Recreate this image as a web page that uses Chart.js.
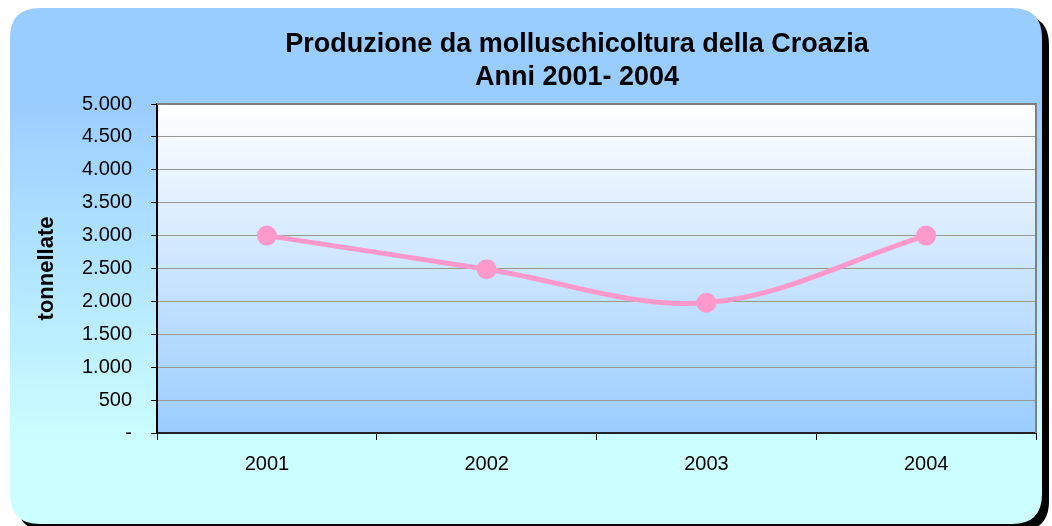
<!DOCTYPE html>
<html>
<head>
<meta charset="utf-8">
<script src="https://cdn.jsdelivr.net/npm/chart.js@4.4.0/dist/chart.umd.min.js"></script>
<style>
html,body{margin:0;padding:0;background:#fff;}
#wrap{width:1052px;height:526px;position:relative;}
</style>
</head>
<body>
<div id="wrap"><canvas id="c" width="1052" height="526"></canvas></div>
<script>
const titleLines = ['Produzione da molluschicoltura della Croazia', 'Anni 2001- 2004'];
const yAxisTitle = 'tonnellate';
const years = ['2001', '2002', '2003', '2004'];
const production = [3000, 2490, 1980, 3000];
const yTicks = [0, 500, 1000, 1500, 2000, 2500, 3000, 3500, 4000, 4500, 5000];

function fmt(v) {
  if (v === 0) return '-';
  return String(v).replace(/\B(?=(\d{3})+(?!\d))/g, '.');
}

function roundRect(ctx, x, y, w, h, r) {
  ctx.beginPath();
  ctx.moveTo(x + r, y);
  ctx.lineTo(x + w - r, y);
  ctx.quadraticCurveTo(x + w, y, x + w, y + r);
  ctx.lineTo(x + w, y + h - r);
  ctx.quadraticCurveTo(x + w, y + h, x + w - r, y + h);
  ctx.lineTo(x + r, y + h);
  ctx.quadraticCurveTo(x, y + h, x, y + h - r);
  ctx.lineTo(x, y + r);
  ctx.quadraticCurveTo(x, y, x + r, y);
  ctx.closePath();
}

const backgroundPlugin = {
  id: 'bg',
  beforeDraw(chart) {
    const ctx = chart.ctx;
    const a = chart.chartArea;
    ctx.save();
    ctx.fillStyle = '#ffffff';
    ctx.fillRect(0, 0, chart.width, chart.height);
    ctx.fillStyle = '#000000';
    roundRect(ctx, 17, 15, 1032, 516, 30);
    ctx.fill();
    const g = ctx.createLinearGradient(0, 8, 0, 524);
    g.addColorStop(0, '#99CCFF');
    g.addColorStop(0.17, '#99CCFF');
    g.addColorStop(0.85, '#CCFFFF');
    g.addColorStop(1, '#CCFFFF');
    ctx.fillStyle = g;
    roundRect(ctx, 10, 8, 1032, 516, 30);
    ctx.fill();
    const pg = ctx.createLinearGradient(0, a.top, 0, a.bottom);
    pg.addColorStop(0, '#FFFFFF');
    pg.addColorStop(1, '#99CCFF');
    ctx.fillStyle = pg;
    ctx.fillRect(a.left, a.top, a.right - a.left, a.bottom - a.top);
    ctx.restore();
  },
  afterDraw(chart) {
    const ctx = chart.ctx;
    const a = chart.chartArea;
    ctx.save();
    ctx.strokeStyle = '#808080';
    ctx.lineWidth = 2;
    ctx.beginPath();
    ctx.moveTo(a.left, a.top);
    ctx.lineTo(a.right, a.top);
    ctx.lineTo(a.right, a.bottom);
    ctx.stroke();
    ctx.fillStyle = '#000';
    ctx.font = 'bold 27px "Liberation Sans", Arial, sans-serif';
    ctx.textAlign = 'center';
    ctx.textBaseline = 'middle';
    const cx = 577;
    titleLines.forEach((t, i) => ctx.fillText(t, cx, 45 + i * 33));
    ctx.restore();
  }
};

new Chart(document.getElementById('c'), {
  type: 'line',
  data: {
    labels: years,
    datasets: [{
      data: production,
      borderColor: '#FF99CC',
      backgroundColor: '#FF99CC',
      borderWidth: 5,
      tension: 0.35,
      pointRadius: 10,
      pointHoverRadius: 10,
      pointBorderWidth: 0,
      pointBackgroundColor: '#FF99CC',
      fill: false
    }]
  },
  options: {
    responsive: false,
    animation: false,
    devicePixelRatio: 1,
    layout: { padding: { left: 30, right: 16, top: 104, bottom: 0 } },
    plugins: {
      legend: { display: false },
      title: { display: false },
      tooltip: { enabled: false }
    },
    scales: {
      x: {
        type: 'category',
        offset: true,
        grid: {
          offset: true,
          drawOnChartArea: false,
          drawTicks: true,
          tickLength: 7,
          tickColor: '#000',
          tickWidth: 1
        },
        border: { color: '#222', width: 2 },
        ticks: {
          color: '#000',
          padding: 12,
          font: { family: '"Liberation Sans", Arial, sans-serif', size: 20 },
          maxRotation: 0
        },
        afterFit(scale) { scale.height = 93; }
      },
      y: {
        min: 0,
        max: 5000,
        afterBuildTicks(scale) { scale.ticks = yTicks.map(v => ({ value: v })); },
        grid: {
          color: '#999999',
          lineWidth: 1,
          drawTicks: true,
          tickLength: 6,
          tickColor: '#000',
          tickWidth: 1
        },
        border: { color: '#000', width: 2 },
        ticks: {
          color: '#000',
          padding: 19,
          callback: (v) => fmt(v),
          font: { family: '"Liberation Sans", Arial, sans-serif', size: 20 }
        },
        title: {
          display: true,
          text: yAxisTitle,
          color: '#000',
          padding: { top: 4, bottom: 0 },
          font: { family: '"Liberation Sans", Arial, sans-serif', size: 22, weight: 'bold' }
        },
        afterFit(scale) { scale.width = 127; }
      }
    }
  },
  plugins: [backgroundPlugin]
});
</script>
</body>
</html>
